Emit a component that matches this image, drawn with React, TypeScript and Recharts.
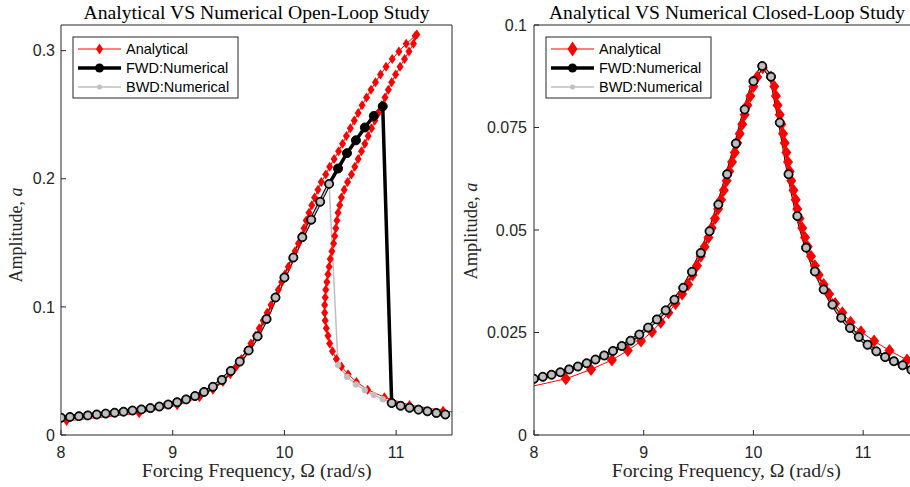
import React from 'react';
import { LineChart, Line, XAxis, YAxis } from 'recharts';

// numerical sweep frequencies (rad/s), same grid for both studies
const sweepFreq = [
  8, 8.08, 8.16, 8.24, 8.32, 8.4, 8.48, 8.56, 8.64, 8.72, 8.8, 8.88, 8.96, 9.04, 9.12,
  9.2, 9.28, 9.36, 9.44, 9.52, 9.6, 9.68, 9.76, 9.84, 9.92, 10, 10.08, 10.16, 10.24,
  10.32, 10.4, 10.48, 10.56, 10.64, 10.72, 10.8, 10.88, 10.96, 11.04, 11.12, 11.2,
  11.28, 11.36, 11.44,
];

// ---- open-loop study ----
const openFwdAmp = [
  0.0135, 0.0141, 0.0147, 0.0153, 0.016, 0.0167, 0.0174, 0.0182, 0.0191, 0.02,
  0.021, 0.0222, 0.0238, 0.0256, 0.0278, 0.0304, 0.0336, 0.0376, 0.043, 0.05,
  0.0573, 0.066, 0.077, 0.0905, 0.1073, 0.1229, 0.1385, 0.1544, 0.168, 0.182,
  0.196, 0.208, 0.22, 0.23, 0.24, 0.249, 0.2565,
  0.025, 0.0228, 0.0212, 0.0198, 0.0185, 0.0172, 0.016,
];
const openBwdAmp = [
  0.0135, 0.0141, 0.0147, 0.0153, 0.016, 0.0167, 0.0174, 0.0182, 0.0191, 0.02,
  0.021, 0.0222, 0.0238, 0.0256, 0.0278, 0.0304, 0.0336, 0.0376, 0.043, 0.05,
  0.0573, 0.066, 0.077, 0.0905, 0.1073, 0.1229, 0.1385, 0.1544, 0.168, 0.182,
  0.196, 0.0547, 0.0455, 0.0395, 0.035, 0.0312, 0.028,
  0.025, 0.0228, 0.0212, 0.0198, 0.0185, 0.0172, 0.016,
];
// analytical: upper branch up to the tip, then back down the other branch
const openAnaFreq = [
  8.05, 8.7, 9.04, 9.24, 9.36, 9.45, 9.515, 9.57, 9.615, 9.66, 9.7, 9.74, 9.775, 9.81,
  9.845, 9.88, 9.915, 9.945, 9.975, 10.005, 10.035, 10.065, 10.095, 10.125, 10.15,
  10.175, 10.195, 10.22, 10.245, 10.27, 10.3, 10.33, 10.37, 10.405, 10.445, 10.485,
  10.52, 10.555, 10.59, 10.625, 10.66, 10.695, 10.735, 10.775, 10.815, 10.86, 10.91,
  10.965, 11.025, 11.09, 11.17, 11.185,
  11.155, 11.115, 11.075, 11.035, 10.995, 10.96, 10.93, 10.9, 10.87, 10.84, 10.81,
  10.78, 10.75, 10.72, 10.69, 10.66, 10.63, 10.6, 10.565, 10.535, 10.51, 10.495, 10.48,
  10.47, 10.46, 10.45, 10.44, 10.425, 10.41, 10.4, 10.39, 10.38, 10.37, 10.365, 10.36,
  10.36, 10.365, 10.375, 10.39, 10.405, 10.43, 10.465, 10.51, 10.57, 10.645, 10.745,
  10.895, 11.12, 11.42, 11.62,
];
const openAnaAmp = [
  0.011, 0.017, 0.0232, 0.0294, 0.0354, 0.0414, 0.0474, 0.0534, 0.0594, 0.0654, 0.0714,
  0.0774, 0.0834, 0.0894, 0.0954, 0.1014, 0.1074, 0.1134, 0.1194, 0.1254, 0.1314,
  0.1374, 0.1434, 0.1494, 0.1554, 0.1614, 0.1674, 0.1734, 0.1794, 0.1854, 0.1914,
  0.1974, 0.2034, 0.2094, 0.2154, 0.2214, 0.2274, 0.2334, 0.2394, 0.2454, 0.2514,
  0.2574, 0.2634, 0.2694, 0.2754, 0.2814, 0.2874, 0.2934, 0.2994, 0.3054, 0.3114, 0.3125,
  0.3054, 0.2994, 0.2934, 0.2874, 0.2814, 0.2754, 0.2694, 0.2634, 0.2574, 0.2514,
  0.2454, 0.2394, 0.2334, 0.2274, 0.2214, 0.2154, 0.2094, 0.2034, 0.1974, 0.1914,
  0.1854, 0.1794, 0.1734, 0.1674, 0.1614, 0.1554, 0.1494, 0.1434, 0.1374, 0.1314,
  0.1254, 0.1194, 0.1134, 0.1074, 0.1014, 0.0954, 0.0894, 0.0834, 0.0774, 0.0714,
  0.0654, 0.0594, 0.0534, 0.0474, 0.0414, 0.0354, 0.0294, 0.0234, 0.019, 0.0165,
];

// ---- closed-loop study ----
const closedNumAmp = [
  0.0137, 0.0142, 0.0147, 0.0153, 0.016, 0.0167, 0.0175, 0.0184, 0.0194, 0.0205,
  0.0217, 0.023, 0.0245, 0.0262, 0.0282, 0.0304, 0.033, 0.0359, 0.0398, 0.0444,
  0.0497, 0.0562, 0.0636, 0.0711, 0.0794, 0.0863, 0.09, 0.0874, 0.0762, 0.0636,
  0.0534, 0.0457, 0.0399, 0.0355, 0.0318, 0.0286, 0.0261, 0.0239, 0.022, 0.0204,
  0.019, 0.018, 0.017, 0.0159,
];
const closedAnaFreq = [
  7.9, 8.29, 8.52, 8.71, 8.855, 8.975, 9.075, 9.155, 9.225, 9.29, 9.35, 9.405, 9.445,
  9.485, 9.52, 9.555, 9.59, 9.62, 9.65, 9.678, 9.705, 9.73, 9.756, 9.78, 9.805, 9.83,
  9.853, 9.875, 9.898, 9.92, 9.945, 9.972, 10.0, 10.035, 10.085,
  10.16, 10.19, 10.205, 10.22, 10.24, 10.255, 10.27, 10.285, 10.3, 10.315, 10.33,
  10.345, 10.365, 10.385, 10.4, 10.42, 10.445, 10.47, 10.495, 10.525, 10.56, 10.595,
  10.64, 10.69, 10.745, 10.81, 10.885, 10.98, 11.1, 11.24, 11.4, 11.62,
];
const closedAnaAmp = [
  0.0114, 0.0137, 0.016, 0.0183, 0.0206, 0.0229, 0.0252, 0.0275, 0.0298, 0.0321,
  0.0344, 0.0367, 0.039, 0.0413, 0.0436, 0.0459, 0.0482, 0.0505, 0.0528, 0.0551,
  0.0574, 0.0597, 0.062, 0.0643, 0.0666, 0.0689, 0.0712, 0.0735, 0.0758, 0.0781,
  0.0804, 0.0827, 0.085, 0.0873, 0.0896,
  0.0873, 0.085, 0.0827, 0.0804, 0.0781, 0.0758, 0.0735, 0.0712, 0.0689, 0.0666,
  0.0643, 0.062, 0.0597, 0.0574, 0.0551, 0.0528, 0.0505, 0.0482, 0.0459, 0.0436,
  0.0413, 0.039, 0.0367, 0.0344, 0.0321, 0.0298, 0.0275, 0.0252, 0.0229, 0.0206,
  0.0183, 0.016,
];

const freqTicks = [8, 9, 10, 11];
const openAmpTicks = [0, 0.1, 0.2, 0.3];
const closedAmpTicks = [0, 0.025, 0.05, 0.075, 0.1];

const RED = '#ff0000';
const GREY = '#bfbfbf';
const AXIS = '#262626';
const SANS = '"Liberation Sans", Arial, Helvetica, sans-serif';
const SERIF = '"Liberation Serif", "Times New Roman", serif';

const zip = (xs: number[], ys: number[]) => xs.map((x, i) => ({ x, y: ys[i] }));

const diamondPath = (cx: number, cy: number, w: number, h: number) =>
  `M${cx},${cy - h}L${cx + w},${cy}L${cx},${cy + h}L${cx - w},${cy}Z`;

const diamondDot = (w: number, h: number) => (p: any) => {
  const { cx, cy, index } = p;
  if (cx == null || cy == null) return <g key={`dm-${index}`} />;
  return <path key={`dm-${index}`} d={diamondPath(cx, cy, w, h)} fill={RED} stroke="none" />;
};

type PanelProps = {
  left: number;
  width: number;
  rightMargin: number;
  yAxisWidth: number;
  yDomain: [number, number];
  yTicks: number[];
  yTickMargin: number;
  analytical: { x: number; y: number }[];
  fwd: { x: number; y: number }[];
  bwd: { x: number; y: number }[];
  dw: number;
  dh: number;
};

function Panel(p: PanelProps) {
  const tickStyle = { fill: AXIS, fontSize: 16, fontFamily: SANS };
  return (
    <div style={{ position: 'absolute', left: p.left, top: 0 }}>
      <LineChart width={p.width} height={487} margin={{ top: 24, right: p.rightMargin, bottom: 22, left: 0 }}>
        <XAxis xAxisId="b" type="number" dataKey="x" domain={[8, 11.5]} ticks={freqTicks}
          allowDataOverflow interval={0} height={30} tickSize={-5} tickMargin={17}
          stroke={AXIS} tick={tickStyle} />
        <XAxis xAxisId="t" orientation="top" type="number" dataKey="x" domain={[8, 11.5]}
          ticks={freqTicks} allowDataOverflow interval={0} height={1} tickSize={-5}
          tick={false} stroke={AXIS} />
        <YAxis yAxisId="l" type="number" domain={p.yDomain} ticks={p.yTicks} interval={0}
          width={p.yAxisWidth} tickSize={-5} tickMargin={p.yTickMargin} stroke={AXIS}
          tick={tickStyle} />
        <YAxis yAxisId="r" orientation="right" type="number" domain={p.yDomain} ticks={p.yTicks}
          interval={0} width={1} tickSize={-5} tick={false} stroke={AXIS} />
        <Line xAxisId="b" yAxisId="l" data={p.analytical} dataKey="y" type="linear"
          stroke={RED} strokeWidth={1} dot={diamondDot(p.dw, p.dh)} activeDot={false}
          isAnimationActive={false} />
        <Line xAxisId="b" yAxisId="l" data={p.fwd} dataKey="y" type="linear"
          stroke="#000" strokeWidth={3.5} dot={{ r: 4.5, fill: '#000', stroke: '#000', strokeWidth: 1 }}
          activeDot={false} isAnimationActive={false} />
        <Line xAxisId="b" yAxisId="l" data={p.bwd} dataKey="y" type="linear"
          stroke={GREY} strokeWidth={1.5} dot={{ r: 3, fill: GREY, stroke: GREY, strokeWidth: 0.5 }}
          activeDot={false} isAnimationActive={false} />
      </LineChart>
    </div>
  );
}

function LegendBox({ x, y, dw, dh }: { x: number; y: number; dw: number; dh: number }) {
  const rows = [12, 31, 50];
  const mx = x + 26.5;
  return (
    <g>
      <rect x={x} y={y} width={165} height={61} fill="#fff" stroke={AXIS} strokeWidth={1} />
      <line x1={x + 5} x2={x + 48} y1={y + rows[0]} y2={y + rows[0]} stroke={RED} strokeWidth={1} />
      <path d={diamondPath(mx, y + rows[0], dw, dh)} fill={RED} />
      <line x1={x + 5} x2={x + 48} y1={y + rows[1]} y2={y + rows[1]} stroke="#000" strokeWidth={3.5} />
      <circle cx={mx} cy={y + rows[1]} r={4.5} fill="#000" />
      <line x1={x + 5} x2={x + 48} y1={y + rows[2]} y2={y + rows[2]} stroke={GREY} strokeWidth={1.5} />
      <circle cx={mx} cy={y + rows[2]} r={2.5} fill={GREY} />
      {['Analytical', 'FWD:Numerical', 'BWD:Numerical'].map((t, i) => (
        <text key={t} x={x + 53} y={y + rows[i]} dy="0.36em" fontSize={14.5} fontFamily={SANS} fill="#000">
          {t}
        </text>
      ))}
    </g>
  );
}

export default function App() {
  return (
    <div style={{ position: 'fixed', left: 0, top: 0, width: 910, height: 487, overflow: 'hidden', background: '#fff' }}>
      <Panel left={0} width={460} rightMargin={7} yAxisWidth={61} yDomain={[0, 0.32]}
        yTicks={openAmpTicks} yTickMargin={11}
        analytical={zip(openAnaFreq, openAnaAmp)} fwd={zip(sweepFreq, openFwdAmp)}
        bwd={zip(sweepFreq, openBwdAmp)} dw={3.5} dh={5} />
      <Panel left={460} width={470} rightMargin={11} yAxisWidth={74} yDomain={[0, 0.1]}
        yTicks={closedAmpTicks} yTickMargin={12}
        analytical={zip(closedAnaFreq, closedAnaAmp)} fwd={zip(sweepFreq, closedNumAmp)}
        bwd={zip(sweepFreq, closedNumAmp)} dw={5} dh={6.5} />
      <svg width={910} height={487} style={{ position: 'absolute', left: 0, top: 0, pointerEvents: 'none' }}>
        <g fontFamily={SERIF} fill="#000">
          <text x={256.5} y={19} fontSize={19} textAnchor="middle" textLength={346} lengthAdjust="spacingAndGlyphs">
            Analytical VS Numerical Open-Loop Study
          </text>
          <text x={727} y={19} fontSize={19} textAnchor="middle" textLength={356} lengthAdjust="spacingAndGlyphs">
            Analytical VS Numerical Closed-Loop Study
          </text>
        </g>
        <g fontFamily={SERIF} fill={AXIS} fontSize={19}>
          <text x={256.7} y={477} textAnchor="middle" textLength={230} lengthAdjust="spacingAndGlyphs">
            Forcing Frequency, {'\u03A9'} (rad/s)
          </text>
          <text x={726.3} y={477} textAnchor="middle" textLength={229} lengthAdjust="spacingAndGlyphs">
            Forcing Frequency, {'\u03A9'} (rad/s)
          </text>
          <text transform="translate(21.5,235) rotate(-90)" textAnchor="middle" textLength={95} lengthAdjust="spacingAndGlyphs">
            Amplitude, <tspan fontStyle="italic">a</tspan>
          </text>
          <text transform="translate(477,231) rotate(-90)" textAnchor="middle" textLength={97} lengthAdjust="spacingAndGlyphs">
            Amplitude, <tspan fontStyle="italic">a</tspan>
          </text>
        </g>
        <LegendBox x={73} y={37} dw={3.5} dh={5.5} />
        <LegendBox x={546} y={37} dw={5} dh={7.5} />
      </svg>
    </div>
  );
}
